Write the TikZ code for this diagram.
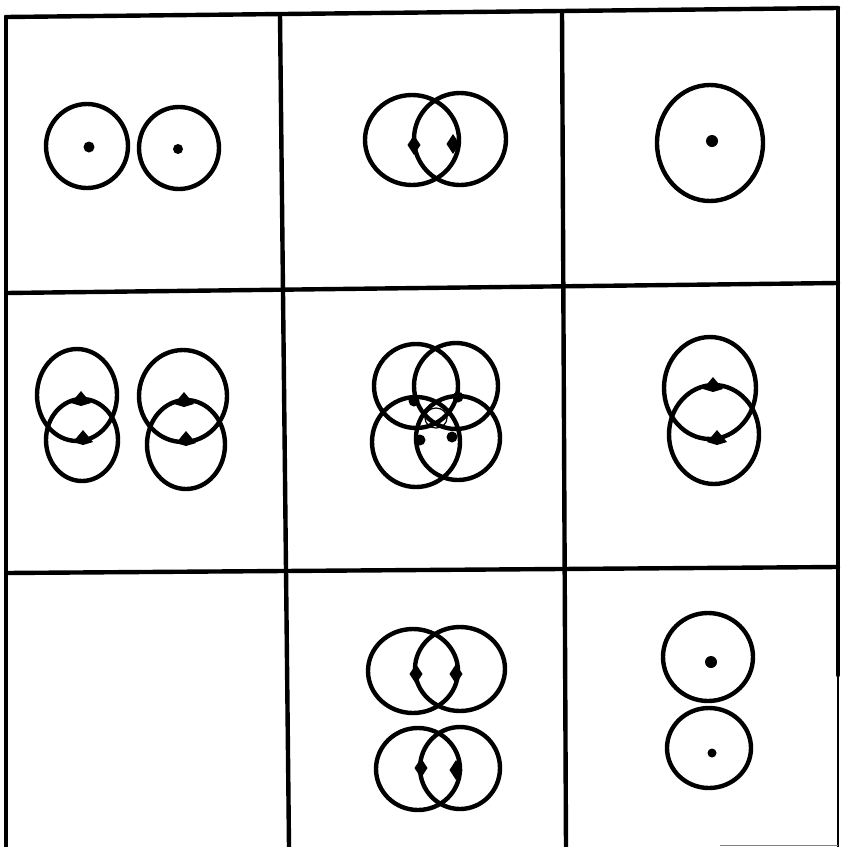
\documentclass[tikz,border=0pt]{standalone}
\begin{document}
\begin{tikzpicture}[x=1pt,y=-1pt,
  gridline/.style={line width=4.4pt,line cap=round},
  ring/.style={line width=4.4pt},
  thinring/.style={line width=1.2pt},
  dotfill/.style={fill=black}]
\useasboundingbox (0,0) rectangle (843,847);
\fill[white] (0,0) rectangle (843,847);
\newcommand{\ringat}[4]{\draw[ring] (#1,#2) ellipse [x radius=#3pt, y radius=#4pt];}
\newcommand{\dotat}[3]{\fill[dotfill] (#1,#2) circle [radius=#3pt];}
% lens dot, vertical (for side-by-side pairs)
\newcommand{\lensv}[2]{\fill[dotfill] (#1-6.5,#2) -- (#1,#2-10) -- (#1+6.5,#2) -- (#1,#2+10) -- cycle;}
% lens dot, horizontal (for stacked pairs)
\newcommand{\lensh}[2]{\fill[dotfill] (#1-10,#2+3) -- (#1,#2-9) -- (#1+10,#2+3) -- (#1,#2+6) -- cycle;}
% grid
\draw[gridline] (6,17) -- (838,8);
\draw[gridline] (6,17) -- (6,847);
\draw[gridline] (838,8) -- (838,675);
\draw[line width=2pt] (838,675) -- (838,847);
\draw[gridline] (6,293) -- (838,283);
\draw[gridline] (6,573) -- (838,567);
\draw[gridline] (280,15) -- (289,847);
\draw[gridline] (562,11) -- (566,847);
\draw[line width=1pt,black!50] (720,845) -- (838,845);
% cell 1
\ringat{87}{146}{41}{42} \dotat{89}{147}{5.5}
\ringat{179}{148}{40}{41} \dotat{178}{149}{5}
% cell 2
\ringat{412}{140}{47}{45}
\ringat{460}{139}{46}{46}
\lensv{414}{145} \lensv{453}{144}
% cell 3
\ringat{710}{143}{53}{58} \dotat{712}{141}{6}
% cell 4
\ringat{77}{395}{40}{46}
\ringat{82}{440}{36}{41}
\lensh{81}{400} \lensh{83}{439}
\ringat{183}{396}{44}{46}
\ringat{186}{444.5}{39}{44.5}
\lensh{184}{401} \lensh{186}{440}
% cell 5
\ringat{416}{386}{42}{42}
\ringat{456}{386}{42}{43}
\ringat{416}{442}{44}{45}
\ringat{458}{438}{42}{42}
\draw[thinring] (436,418) ellipse [x radius=11pt, y radius=10pt];
\dotat{414}{401}{5.5} \dotat{458}{397}{5.5}
\dotat{420}{440}{5.5} \dotat{452}{437}{5.5}
% cell 6
\ringat{710}{388}{46}{51}
\ringat{714}{434.5}{45}{49.5}
\lensh{713}{386} \lensh{717}{439}
% cell 8
\ringat{413}{671}{45}{42}
\ringat{460}{669}{45}{42}
\lensv{416}{674} \lensv{456}{674}
\ringat{418}{769}{42}{41}
\ringat{460}{768}{40}{41}
\lensv{421}{768} \lensv{456}{770}
% cell 9
\ringat{708}{657}{45}{44} \dotat{711}{662}{6}
\ringat{709}{748}{42}{40} \dotat{712}{753}{4.5}
\end{tikzpicture}
\end{document}
